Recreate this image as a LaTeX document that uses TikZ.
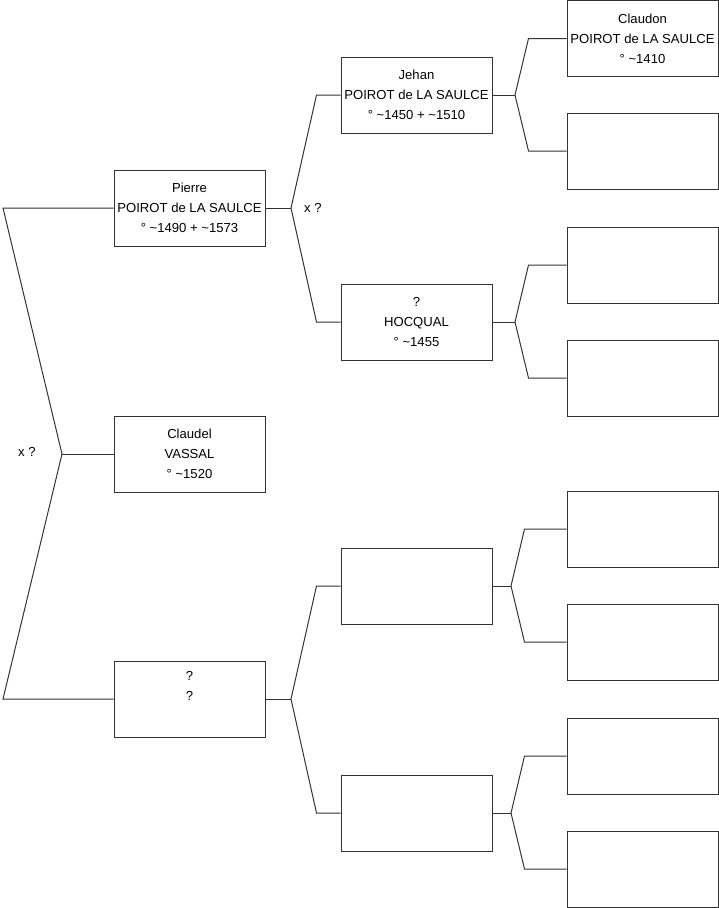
\documentclass[tikz,border=0pt]{standalone}
\usepackage{fontspec}
\setmainfont{Liberation Sans}

\begin{document}
\begin{tikzpicture}[
    x=1pt, y=-1pt,
    person/.style={draw=black!80, line width=1pt, rectangle, minimum width=151pt, minimum height=76pt, inner sep=0pt, align=center, font=\fontsize{13.1}{20}\selectfont},
    link/.style={draw=black!80, line width=1pt},
    union/.style={anchor=west, inner sep=0pt, font=\fontsize{13.1}{15}\selectfont}
]
\useasboundingbox (0,0) rectangle (719,908);

% Nodes
\node[person] (pierre) at (189.5,208) {Pierre\\POIROT de LA SAULCE\\° \textasciitilde1490 + \textasciitilde1573};
\node[person] (claudel) at (189.5,454) {Claudel\\VASSAL\\° \textasciitilde1520};
\node[person] (unknown) at (189.5,699) {?\\?\\\strut};

\node[person] (jehan) at (416.5,95) {Jehan\\POIROT de LA SAULCE\\° \textasciitilde1450 + \textasciitilde1510};
\node[person] (hocqual) at (416.5,322) {?\\HOCQUAL\\° \textasciitilde1455};
\node[person] (midc) at (416.5,586) {};
\node[person] (midd) at (416.5,813) {};

\node[person] (claudon) at (642.5,38.5) {Claudon\\POIROT de LA SAULCE\\° \textasciitilde1410};
\node[person] (rightb) at (642.5,151) {};
\node[person] (rightc) at (642.5,265) {};
\node[person] (rightd) at (642.5,378) {};
\node[person] (righte) at (642.5,529) {};
\node[person] (rightf) at (642.5,642) {};
\node[person] (rightg) at (642.5,756) {};
\node[person] (righth) at (642.5,869) {};

% Forks
\coordinate (fork0) at (62,454);
\coordinate (top0) at (3,208);
\coordinate (bot0) at (3,699);
\coordinate (fork1) at (291,208);
\coordinate (fork2) at (515,95);
\coordinate (fork3) at (515,322);
\coordinate (fork4) at (291,699);
\coordinate (fork5) at (511,586);
\coordinate (fork6) at (511,813);

% Links
\draw[link] (claudel.west) -- (fork0);
\draw[link] (pierre.west) -- (top0) -- (fork0) -- (bot0) -- (unknown.west);

\draw[link] (pierre.east) -- (fork1);
\draw[link] (jehan.west) -- ++(-24,0) -- (fork1) -- ([xshift=-24pt]hocqual.west) -- (hocqual.west);

\draw[link] (unknown.east) -- (fork4);
\draw[link] (midc.west) -- ++(-24,0) -- (fork4) -- ([xshift=-24pt]midd.west) -- (midd.west);

\draw[link] (jehan.east) -- (fork2);
\draw[link] (claudon.west) -- ++(-38,0) -- (fork2) -- ([xshift=-38pt]rightb.west) -- (rightb.west);

\draw[link] (hocqual.east) -- (fork3);
\draw[link] (rightc.west) -- ++(-38,0) -- (fork3) -- ([xshift=-38pt]rightd.west) -- (rightd.west);

\draw[link] (midc.east) -- (fork5);
\draw[link] (righte.west) -- ++(-42,0) -- (fork5) -- ([xshift=-42pt]rightf.west) -- (rightf.west);

\draw[link] (midd.east) -- (fork6);
\draw[link] (rightg.west) -- ++(-42,0) -- (fork6) -- ([xshift=-42pt]righth.west) -- (righth.west);

% Unions
\node[union] (union0) at (18,452) {x ?};
\node[union] (union1) at (304,208) {x ?};

\end{tikzpicture}
\end{document}
